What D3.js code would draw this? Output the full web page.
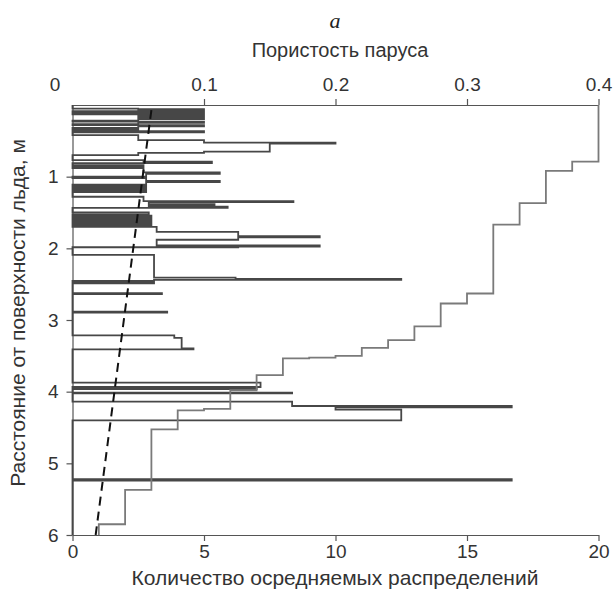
<!DOCTYPE html>
<html>
<head>
<meta charset="utf-8">
<script src="https://cdn.jsdelivr.net/npm/d3@7"></script>
<style>
  html, body { margin: 0; padding: 0; background: #fff; }
  svg { display: block; }
  .axis text { font-family: "Liberation Sans", Arial, sans-serif; font-size: 19px; fill: #333; }
  .axis path, .axis line { stroke: #555; stroke-width: 1.2; }
</style>
</head>
<body>
<svg id="chart" width="613" height="602"></svg>
<script>
// Number of averaged distributions: stair profile, each count holds from its depth to the next one (m)
const countDepths = [
  0.000, 0.050, 0.058, 0.066, 0.075, 0.085, 0.095, 0.105, 0.118, 0.130,
  0.150, 0.175, 0.195, 0.220, 0.232, 0.250, 0.268, 0.280, 0.298, 0.318,
  0.330, 0.342, 0.352, 0.365, 0.380, 0.420, 0.490, 0.525, 0.540, 0.650,
  0.668, 0.700, 0.770, 0.790, 0.810, 0.840, 0.860, 0.880, 0.940, 0.960,
  1.000, 1.020, 1.060, 1.075, 1.110, 1.125, 1.145, 1.160, 1.180, 1.195,
  1.215, 1.280, 1.340, 1.355, 1.385, 1.400, 1.420, 1.435, 1.500, 1.530,
  1.545, 1.560, 1.575, 1.590, 1.605, 1.620, 1.635, 1.650, 1.665, 1.680,
  1.700, 1.770, 1.830, 1.845, 1.880, 1.960, 1.975, 1.985, 2.090, 2.410,
  2.425, 2.440, 2.455, 2.470, 2.490, 2.625, 2.640, 2.885, 2.895, 3.215,
  3.250, 3.395, 3.410, 3.875, 3.935, 3.955, 3.965, 4.015, 4.025, 4.140,
  4.200, 4.220, 4.250, 4.400, 5.220, 5.240
];
const countValues = [
  0,    2.5,  5.0,  2.5,  5.0,  0,    2.5,  5.0,  0,    5.0,
  2.5,  5.0,  2.5,  0,    5.0,  2.5,  0,    5.0,  2.5,  0,
  2.5,  0,    2.5,  5.0,  0,    2.5,  5.0,  10.0, 7.5,  5.0,
  2.5,  0,    2.7,  5.3,  0,    2.7,  0,    2.7,  5.6,  2.8,
  0,    2.8,  5.6,  2.8,  0,    2.8,  0,    2.8,  0,    2.8,
  0,    2.7,  8.4,  2.9,  5.4,  2.9,  5.9,  0,    2.9,  0,
  3.0,  0,    3.0,  0,    3.0,  0,    3.0,  0,    3.0,  0,
  3.2,  6.3,  9.4,  6.3,  3.2,  9.4,  6.3,  0,    3.1,  6.2,
  12.5, 3.1,  0,    3.1,  0,    3.4,  0,    3.6,  0,    3.87,
  4.15, 4.6,  0,    7.15, 0,    7.0,  0,    8.35, 0,    8.35,
  16.7, 10.0, 12.5, 0,    16.7, 0
];

// Sail porosity: stair profile, each value holds from its depth to the next one (m)
const porosityDepths = [
  0.00, 0.79, 0.92, 1.37, 1.67, 2.63, 2.77, 3.09, 3.28, 3.39,
  3.50, 3.525, 3.535, 3.77, 3.98, 4.24, 4.26, 4.525, 5.37, 5.85
];
const porosityValues = [
  0.40, 0.38, 0.36, 0.34, 0.32, 0.30, 0.28, 0.26, 0.24, 0.22,
  0.20, 0.18, 0.16, 0.14, 0.12, 0.10, 0.08, 0.06, 0.04, 0.02
];

// Linear trend of the count with depth (dashed)
const trendDepths = [0.07, 6.0];
const trendCounts = [3.0, 0.88];

const maxDepth = 6;
const countTicks = [0, 5, 10, 15, 20];
const porosityTicks = [0, 0.1, 0.2, 0.3, 0.4];
const depthTicks = [1, 2, 3, 4, 5, 6];

const svg = d3.select("#chart");
const plotLeft = 72.5, plotRight = 598.5, plotTop = 105, plotBottom = 535;

const xCount = d3.scaleLinear().domain([0, 20]).range([plotLeft, plotRight]);
const xPor = d3.scaleLinear().domain([0, 0.4]).range([plotLeft, plotRight]);
const yDepth = d3.scaleLinear().domain([0, maxDepth]).range([plotTop, plotBottom]);

// Expand a stair profile into polyline vertices
function stairs(depths, values) {
  const pts = [];
  depths.forEach((d, i) => {
    const next = i + 1 < depths.length ? depths[i + 1] : maxDepth;
    pts.push([values[i], d], [values[i], next]);
  });
  return pts;
}

// Axes
const gTop = svg.append("g").attr("class", "axis")
  .attr("transform", `translate(0,${plotTop})`)
  .call(d3.axisTop(xPor).tickValues(porosityTicks).tickSize(6).tickPadding(8).tickSizeOuter(0)
    .tickFormat(d => d === 0 ? "0" : d3.format(".1f")(d)));
gTop.selectAll(".tick").filter(d => d === 0).select("text").attr("dx", -18);
gTop.selectAll(".tick").filter(d => d === 0).select("line").remove();

svg.append("g").attr("class", "axis")
  .attr("transform", `translate(0,${plotBottom})`)
  .call(d3.axisBottom(xCount).tickValues(countTicks).tickSize(6).tickPadding(4).tickSizeOuter(0)
    .tickFormat(d3.format("d")));

svg.append("g").attr("class", "axis")
  .attr("transform", `translate(${plotLeft},0)`)
  .call(d3.axisLeft(yDepth).tickValues(depthTicks).tickSize(6).tickPadding(8).tickSizeOuter(0)
    .tickFormat(d3.format("d")));

// Count profile
const countLine = d3.line().x(p => xCount(p[0])).y(p => yDepth(p[1]));
svg.append("path")
  .datum(stairs(countDepths, countValues))
  .attr("d", countLine)
  .attr("fill", "none")
  .attr("stroke", "#474747")
  .attr("stroke-width", 1.8)
  .attr("stroke-linejoin", "miter");

// Porosity profile
const porLine = d3.line().x(p => xPor(p[0])).y(p => yDepth(p[1]));
svg.append("path")
  .datum(stairs(porosityDepths, porosityValues))
  .attr("d", porLine)
  .attr("fill", "none")
  .attr("stroke", "#7a7a7a")
  .attr("stroke-width", 1.8);

// Trend line
svg.append("path")
  .datum(trendDepths.map((d, i) => [trendCounts[i], d]))
  .attr("d", countLine)
  .attr("fill", "none")
  .attr("stroke", "#111")
  .attr("stroke-width", 2)
  .attr("stroke-dasharray", "9,6");

// Titles
const sans = '"Liberation Sans", Arial, sans-serif';
svg.append("text")
  .attr("x", 335).attr("y", 28)
  .attr("text-anchor", "middle")
  .style("font-family", '"Liberation Serif", "Times New Roman", serif')
  .style("font-style", "italic")
  .style("font-size", "22px")
  .attr("fill", "#222")
  .text("a");

svg.append("text")
  .attr("x", 340).attr("y", 57)
  .attr("text-anchor", "middle")
  .style("font-family", sans).style("font-size", "20px")
  .attr("fill", "#333")
  .text("Пористость паруса");

svg.append("text")
  .attr("x", 335).attr("y", 585)
  .attr("text-anchor", "middle")
  .style("font-family", sans).style("font-size", "21px")
  .attr("fill", "#333")
  .text("Количество осредняемых распределений");

svg.append("text")
  .attr("transform", "translate(25,313) rotate(-90)")
  .attr("text-anchor", "middle")
  .style("font-family", sans).style("font-size", "21px")
  .attr("fill", "#333")
  .text("Расстояние от поверхности льда, м");
</script>
</body>
</html>
